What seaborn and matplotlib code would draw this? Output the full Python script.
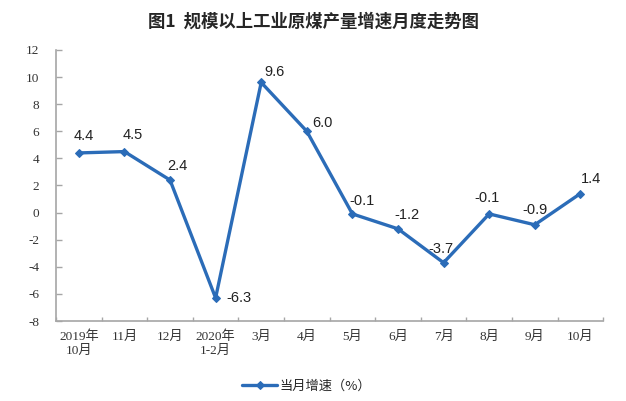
import numpy as np
import matplotlib
matplotlib.use("Agg")
import matplotlib.pyplot as plt
import seaborn as sns


# data
months = ["2019年\n10月", "11月", "12月", "2020年\n1-2月", "3月", "4月",
          "5月", "6月", "7月", "8月", "9月", "10月"]
growth = [4.4, 4.5, 2.4, -6.3, 9.6, 6.0, -0.1, -1.2, -3.7, -0.1, -0.9, 1.4]
y_ticks = list(range(-8, 13, 2))

# label offsets in pixels (dx, dy up)
label_offsets = [(5, 17), (8, 17), (7, 14), (23, 0), (13, 10), (16, 8),
                 (10, 13), (9, 14), (-3, 14), (-2, 16), (0, 15), (11, 15)]

sns.set_style("white")
plt.rcParams["font.family"] = ["Liberation Serif", "Noto Sans CJK SC", "DejaVu Sans"]

blue = "#2B6CB8"
grey = "#A6A6A6"

fig = plt.figure(figsize=(6.26, 4.01), dpi=100)
ax = fig.add_axes([0.0895, 0.1995, 0.874, 0.676])

x = np.arange(len(months))
sns.lineplot(x=x, y=growth, ax=ax, color=blue, linewidth=2.4, marker="D",
             markersize=4.5, markeredgecolor=blue, label="当月增速（%）")

# value labels
px = 0.72
for xi, v, (dx, dy) in zip(x, growth, label_offsets):
    ax.annotate(f"{v:.1f}", (xi, v), xytext=(dx * px, dy * px),
                textcoords="offset points", ha="center", va="center",
                fontsize=10.5, family=["Liberation Sans", "DejaVu Sans"],
                color="#222222")

ax.set_xlim(-0.5, len(months) - 0.5)
ax.set_ylim(-8, 12)
ax.set_yticks(y_ticks)
ax.set_yticklabels([str(t) for t in y_ticks])
ax.set_xticks(x)
ax.set_xticklabels(months, linespacing=1.15)
ax.set_xticks(np.arange(-0.5, len(months), 1), minor=True)

ax.tick_params(axis="x", which="major", length=0, pad=7, labelsize=9.5,
               labelcolor="#333333")
ax.tick_params(axis="x", which="minor", direction="in", length=3, color=grey,
               width=1)
ax.tick_params(axis="y", direction="in", length=4, color=grey, width=1,
               pad=12, labelsize=9.5, labelcolor="#333333")
ax.tick_params(bottom=True, left=True, which="both")

for side in ["top", "right"]:
    ax.spines[side].set_visible(False)
for side in ["left", "bottom"]:
    ax.spines[side].set_color(grey)
    ax.spines[side].set_linewidth(1.2)

fig.text(0.5, 0.945, "图1  规模以上工业原煤产量增速月度走势图", ha="center",
         va="center", fontsize=12.5, fontweight="bold",
         family=["Noto Sans CJK SC", "DejaVu Sans"])

leg = ax.legend(loc="center", bbox_to_anchor=(0.49, 0.037),
                bbox_transform=fig.transFigure, frameon=False,
                prop={"family": ["Noto Sans CJK SC", "DejaVu Sans"], "size": 9.5},
                handlelength=2.6, handletextpad=0.2)

fig.savefig("out.png", dpi=100)
